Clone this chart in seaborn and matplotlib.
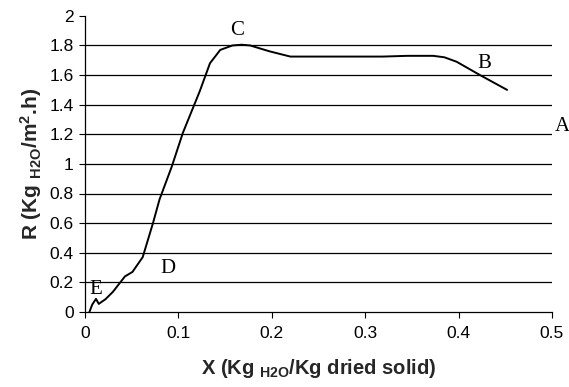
import matplotlib
matplotlib.use("Agg")
import matplotlib.pyplot as plt
import seaborn as sns
import pandas as pd

# Data
x_moist = [0.005, 0.008, 0.012, 0.015, 0.018, 0.022, 0.030, 0.043, 0.051, 0.062, 0.073,
           0.080, 0.093, 0.105, 0.123, 0.134, 0.145, 0.158, 0.168, 0.177, 0.198,
           0.220, 0.260, 0.319, 0.345, 0.373, 0.385, 0.398, 0.423, 0.452]
r_rate = [0.00, 0.05, 0.088, 0.054, 0.068, 0.085, 0.135, 0.24, 0.27, 0.37, 0.60,
          0.76, 0.98, 1.21, 1.49, 1.68, 1.77, 1.80, 1.805, 1.80, 1.76,
          1.725, 1.725, 1.725, 1.73, 1.73, 1.72, 1.69, 1.60, 1.50]

point_labels = ["C", "B", "A", "D", "E"]
label_x = [0.163, 0.428, 0.503, 0.089, 0.012]
label_y = [1.90, 1.68, 1.25, 0.29, 0.15]
label_ha = ["center", "center", "left", "center", "center"]

x_ticks = [0, 0.1, 0.2, 0.3, 0.4, 0.5]
x_tick_labels = ["0", "0.1", "0.2", "0.3", "0.4", "0.5"]
y_ticks = [0, 0.2, 0.4, 0.6, 0.8, 1.0, 1.2, 1.4, 1.6, 1.8, 2.0]
y_tick_labels = ["0", "0.2", "0.4", "0.6", "0.8", "1", "1.2", "1.4", "1.6", "1.8", "2"]

sns.set_theme(style="white")
plt.rcParams["font.family"] = ["Liberation Sans", "DejaVu Sans"]
plt.rcParams["mathtext.fontset"] = "custom"
plt.rcParams["mathtext.rm"] = "Liberation Sans:bold"
plt.rcParams["mathtext.it"] = "Liberation Sans:bold"
plt.rcParams["mathtext.bf"] = "Liberation Sans:bold"

df = pd.DataFrame({"X": x_moist, "R": r_rate})

fig = plt.figure(figsize=(5.69, 3.87), dpi=100)
ax = fig.add_axes([0.149, 0.194, 0.821, 0.765])

for yv in y_ticks[1:-1]:
    ax.axhline(yv, color="black", lw=0.9, zorder=1)

sns.lineplot(data=df, x="X", y="R", sort=False, color="black", lw=1.4, ax=ax, zorder=3)

ax.set_xlim(0, 0.5)
ax.set_ylim(0, 2.0)
ax.set_xticks(x_ticks)
ax.set_xticklabels(x_tick_labels)
ax.set_yticks(y_ticks)
ax.set_yticklabels(y_tick_labels)
ax.tick_params(axis="both", which="major", direction="out", length=4, width=0.8,
               colors="black", labelsize=12.5, pad=4, bottom=True, left=True)
ax.tick_params(axis="x", pad=6)

for side in ["top", "right"]:
    ax.spines[side].set_visible(False)
for side in ["left", "bottom"]:
    ax.spines[side].set_color("black")
    ax.spines[side].set_linewidth(0.9)

ax.set_xlabel(r"X (Kg $_{\mathrm{H2O}}$/Kg dried solid)", fontsize=14.5, fontweight="bold", labelpad=12)
ax.set_ylabel(r"R (Kg $_{\mathrm{H2O}}$/m$^{\mathrm{2}}$.h)", fontsize=15, fontweight="bold", labelpad=4)

for lab, lx, ly, ha in zip(point_labels, label_x, label_y, label_ha):
    ax.text(lx, ly, lab, fontsize=15, family="Liberation Serif", ha=ha, va="center",
            color="black", clip_on=False)

fig.savefig("out.png", dpi=100)
